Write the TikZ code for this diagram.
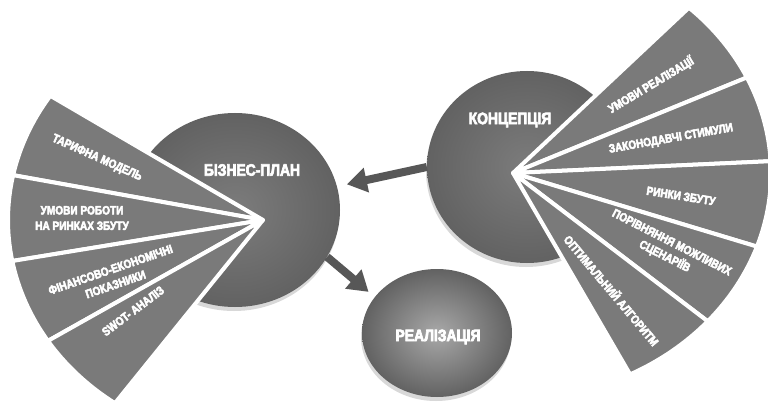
\documentclass[tikz,border=0pt]{standalone}
\usepackage{fontspec}
\setmainfont{Liberation Sans}[FakeStretch=0.84,FakeBold=4]
\usetikzlibrary{shapes.geometric,arrows.meta,shadows}

\definecolor{wedgegray}{HTML}{7A7A7A}
\definecolor{discdark}{HTML}{626262}
\definecolor{disclight}{HTML}{7C7C7C}
\definecolor{arrowgray}{HTML}{575757}

\begin{document}
\begin{tikzpicture}[x=1pt,y=1pt,
	disc/.style={ellipse, inner sep=0pt, inner color=disclight, outer color=discdark,
		drop shadow={shadow xshift=-1pt, shadow yshift=-4pt, fill=black!30, opacity=0.5}},
	wedge/.style={fill=wedgegray, draw=white, line width=4pt, line join=round},
	disctext/.style={text=white, font=\fontsize{16.5}{18}\selectfont\bfseries},
	wedgetext/.style={text=white, font=\fontsize{12}{15.5}\selectfont\bfseries, align=center},
	bigarrow/.style={draw=arrowgray, line width=8pt, -{Triangle[length=20pt,width=24pt]}}]

	\useasboundingbox (0,0) rectangle (768,405);
	\fill[white] (0,0) rectangle (768,405);

	% discs
	\node[disc, minimum width=210pt, minimum height=194pt] (biz) at (235,195) {};
	\node[disc, minimum width=200pt, minimum height=192pt] (kons) at (527,238) {};
	\node[disc, minimum width=150pt, minimum height=128pt, inner color=gray!68, outer color=discdark] (real) at (437,72) {};

	% arrows
	\draw[bigarrow, shorten >=10pt] (kons.west) -- (biz.13);
	\draw[bigarrow, shorten >=8pt] (biz.-27) -- (real.150);

	% left fan
	\coordinate (leftapex) at (263,185);
	\draw[wedge] (leftapex) -- ++(146.5:255pt and 225pt) arc[start angle=146.5, end angle=168.5, x radius=255pt, y radius=225pt] -- cycle;
	\draw[wedge] (leftapex) -- ++(168.5:255pt and 225pt) arc[start angle=168.5, end angle=190.5, x radius=255pt, y radius=225pt] -- cycle;
	\draw[wedge] (leftapex) -- ++(190.5:255pt and 225pt) arc[start angle=190.5, end angle=212.5, x radius=255pt, y radius=225pt] -- cycle;
	\draw[wedge] (leftapex) -- ++(212.5:255pt and 225pt) arc[start angle=212.5, end angle=234.5, x radius=255pt, y radius=225pt] -- cycle;

	% right fan
	\coordinate (rightapex) at (513,232);
	\draw[wedge] (rightapex) -- ++(47:258pt and 226pt) arc[start angle=47, end angle=25, x radius=258pt, y radius=226pt] -- cycle;
	\draw[wedge] (rightapex) -- ++(25:258pt and 226pt) arc[start angle=25, end angle=3, x radius=258pt, y radius=226pt] -- cycle;
	\draw[wedge] (rightapex) -- ++(3:258pt and 226pt) arc[start angle=3, end angle=-19, x radius=258pt, y radius=226pt] -- cycle;
	\draw[wedge] (rightapex) -- ++(-19:258pt and 226pt) arc[start angle=-19, end angle=-41, x radius=258pt, y radius=226pt] -- cycle;
	\draw[wedge] (rightapex) -- ++(-41:258pt and 226pt) arc[start angle=-41, end angle=-63, x radius=258pt, y radius=226pt] -- cycle;

	% disc texts
	\node[disctext] (biztext) at (252,235) {БІЗНЕС-ПЛАН};
	\node[disctext] (konstext) at (510,285) {КОНЦЕПЦІЯ};
	\node[disctext] (realtext) at (438,68) {РЕАЛІЗАЦІЯ};

	% left labels
	\node[wedgetext, rotate=-24] (tarif) at (97,247) {ТАРИФНА МОДЕЛЬ};
	\node[wedgetext] (umovy) at (82,187) {УМОВИ РОБОТИ\\НА РИНКАХ ЗБУТУ};
	\node[wedgetext, rotate=19] (finpok) at (113,128) {ФІНАНСОВО-ЕКОНОМІЧНІ\\ПОКАЗНИКИ};
	\node[wedgetext, rotate=37] (swot) at (133,94) {SWOT- АНАЛІЗ};

	% right labels
	\node[wedgetext, rotate=31] (umreal) at (651,320) {УМОВИ РЕАЛІЗАЦІЇ};
	\node[wedgetext, rotate=10] (zakon) at (671,266) {ЗАКОНОДАВЧІ СТИМУЛИ};
	\node[wedgetext, rotate=-9] (rynky) at (681,209) {РИНКИ ЗБУТУ};
	\node[wedgetext, rotate=-27] (porivn) at (668,155) {ПОРІВНЯННЯ МОЖЛИВИХ\\СЦЕНАРІЇВ};
	\node[wedgetext, rotate=-50] (optim) at (612,115) {ОПТИМАЛЬНИЙ АЛГОРИТМ};
\end{tikzpicture}
\end{document}
